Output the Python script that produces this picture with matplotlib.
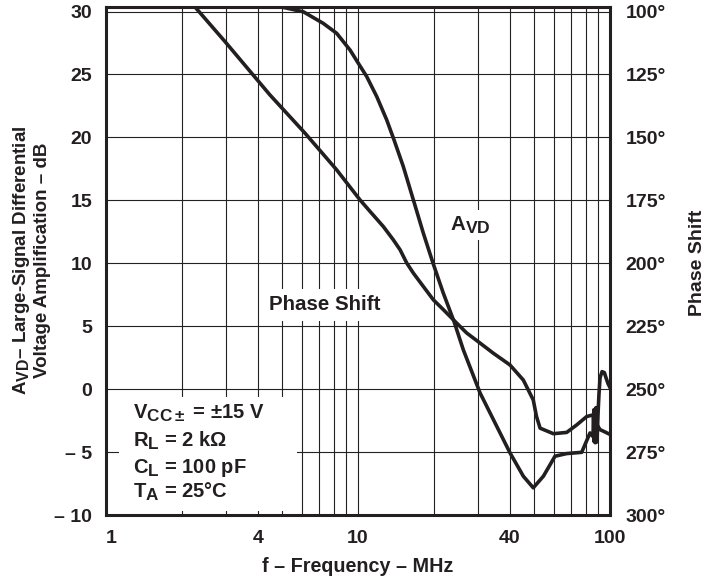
import matplotlib
matplotlib.use("Agg")
import matplotlib.pyplot as plt
import matplotlib._mathtext as mathtext_internals
from matplotlib.patches import Rectangle
from matplotlib.ticker import FixedLocator, FixedFormatter, LogLocator, NullFormatter

plt.rcParams["font.family"] = ["Liberation Sans", "DejaVu Sans"]
plt.rcParams["font.weight"] = "bold"
plt.rcParams["mathtext.fontset"] = "custom"
plt.rcParams["mathtext.rm"] = "Liberation Sans:bold"
plt.rcParams["mathtext.bf"] = "Liberation Sans:bold"
plt.rcParams["mathtext.it"] = "Liberation Sans:bold"
# datasheet subscripts are almost full size
mathtext_internals.SHRINK_FACTOR = 0.85

# ---- data ----
# A_VD (dB) vs frequency (MHz)
avd_freq = [5.05, 6.07, 7.28, 8.23, 9.30, 10.03, 10.83, 11.87, 13.0, 13.9, 15.13, 16.58,
            18.16, 19.9, 21.8, 24.04, 26.17, 30.5, 40.1, 45.3, 49.6, 54.4, 60.5, 67.3,
            77.2, 83.3, 85.6, 86.4, 87.2, 88.0, 88.8, 89.6, 90.4, 91.3, 93.0, 95.0,
            96.4, 98.2, 100.0]
avd_db = [30.33, 29.98, 29.06, 28.27, 26.94, 25.89, 24.83, 23.24, 21.39, 19.80, 17.68, 15.04,
          12.40, 9.94, 7.63, 5.38, 3.13, -0.30, -5.06, -6.92, -7.84, -6.92, -5.33, -5.12,
          -5.02, -3.48, -3.77, -1.63, -4.25, -1.47, -4.17, -2.02, -0.44, 0.91, 1.39, 1.31,
          0.91, 0.44, 0.12]

# phase shift (degrees) vs frequency (MHz)
phase_freq = [2.26, 2.97, 4.47, 6.16, 8.23, 10.18, 11.16, 12.6, 13.81, 14.68, 15.61, 16.58,
              18.16, 19.9, 21.8, 24.26, 27.0, 30.5, 34.4, 40.1, 45.3, 49.6, 51.1, 52.8,
              59.6, 67.3, 73.8, 80.8, 85.8, 86.4, 87.2, 88.0, 88.8, 91.3, 95.0, 100.0]
phase_deg = [98.3, 112.0, 133.1, 148.3, 162.9, 174.8, 179.4, 185.4, 190.7, 194.6, 199.9, 203.9,
             209.2, 214.5, 218.4, 223.1, 227.7, 231.7, 235.7, 240.4, 246.4, 254.3, 260.9, 265.5,
             267.7, 267.2, 264.2, 260.9, 260.2, 270.8, 258.9, 271.2, 264.1, 266.1, 266.9, 268.0]

x_ticks = [1, 4, 10, 40, 100]
db_ticks = [-10, -5, 0, 5, 10, 15, 20, 25, 30]
phase_ticks = [100, 125, 150, 175, 200, 225, 250, 275, 300]

conditions = [r"V$_\mathbf{CC\pm}$ = ±15 V",
              r"R$_\mathbf{L}$ = 2 kΩ",
              r"C$_\mathbf{L}$ = 100 pF",
              r"T$_\mathbf{A}$ = 25°C"]

ink = "#231f20"

# ---- figure ----
fig = plt.figure(figsize=(7.05, 5.86), dpi=100)
ax = fig.add_axes([106 / 705, 1 - 515 / 586, 504 / 705, 508 / 586])

ax.set_xscale("log")
ax.set_xlim(1, 100)
ax.set_ylim(-10, 30.36)

ax.xaxis.set_major_locator(FixedLocator(x_ticks))
ax.xaxis.set_major_formatter(FixedFormatter([str(v) for v in x_ticks]))
ax.xaxis.set_minor_locator(LogLocator(base=10, subs=range(2, 10)))
ax.xaxis.set_minor_formatter(NullFormatter())
ax.set_yticks(db_ticks)
ax.set_yticklabels(["– 10", "– 5", "0", "5", "10", "15", "20", "25", "30"])

ax.set_axisbelow(True)
ax.grid(which="both", axis="x", color="#222222", lw=0.8)
ax.grid(which="major", axis="y", color="#222222", lw=0.8)
ax.tick_params(which="both", length=0, labelsize=14, colors=ink)
ax.tick_params(axis="x", pad=11)
ax.tick_params(axis="y", pad=10)
ax.xaxis.get_major_ticks()[0].label1.set_horizontalalignment("left")
for s in ax.spines.values():
    s.set_linewidth(2.2)
    s.set_color(ink)

# white patch behind the test conditions
ax.add_patch(Rectangle((0.026, 0.008), 0.353, 0.224, transform=ax.transAxes,
                       facecolor="white", edgecolor="none", zorder=1))

ax.plot(avd_freq, avd_db, color=ink, lw=2.6, zorder=3, solid_joinstyle="round")

ax2 = ax.twinx()
ax2.set_ylim(300, 98.2)
ax2.set_yticks(phase_ticks)
ax2.set_yticklabels([f"{v}°" for v in phase_ticks])
ax2.tick_params(length=0, labelsize=14, colors=ink, pad=11)
for s in ax2.spines.values():
    s.set_visible(False)
ax2.plot(phase_freq, phase_deg, color=ink, lw=2.6, zorder=3, solid_joinstyle="round")

# labels on the curves
ax.text(0.4345, 0.4134, "Phase Shift", transform=ax.transAxes, ha="center", va="center",
        fontsize=14.8, color=ink, zorder=2,
        bbox=dict(facecolor="white", edgecolor="none", pad=5))
ax.text(0.722, 0.571, r"A$_\mathbf{VD}$", transform=ax.transAxes, ha="center", va="center",
        fontsize=14.8, color=ink, zorder=2,
        bbox=dict(facecolor="white", edgecolor="none", pad=3))

# test conditions
cond_y = [0.189, 0.134, 0.0827, 0.0335]
for txt, yy in zip(conditions, cond_y):
    ax.text(0.0536, yy, txt, transform=ax.transAxes, ha="left", va="baseline",
            fontsize=14.5, color=ink, zorder=2)

# axis titles
fig.text(358 / 705, 1 - 567 / 586, "f – Frequency – MHz", ha="center", va="center",
         fontsize=14.2, color=ink)
fig.text(31 / 705, 1 - 260 / 586,
         "A$_\\mathbf{VD}$– Large-Signal Differential\nVoltage Amplification – dB",
         rotation=90, ha="center", va="center", multialignment="center",
         fontsize=13.5, color=ink, linespacing=1.1)
fig.text(697 / 705, 1 - 263 / 586, "Phase Shift", rotation=90, ha="center", va="center",
         fontsize=14, color=ink)

fig.savefig("out.png", dpi=100)
